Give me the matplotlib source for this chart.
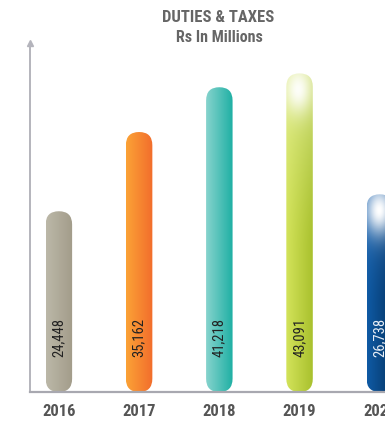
import numpy as np
import matplotlib
matplotlib.use("Agg")
import matplotlib.pyplot as plt
from matplotlib.patches import FancyBboxPatch
from matplotlib.colors import to_rgb
from matplotlib import font_manager

years = ["2016", "2017", "2018", "2019", "2020"]
values = [24448, 35162, 41218, 43091, 26738]
value_labels = ["24,448", "35,162", "41,218", "43,091", "26,738"]

# (left colour, right colour, top tint, glow strength, label colour)
styles = [
    ("#bcb8a8", "#a29c8a", None, 0.0, "#222222"),
    ("#fba236", "#f26d2c", None, 0.0, "#222222"),
    ("#86d3cd", "#1fb0a4", None, 0.0, "#222222"),
    ("#d3e35a", "#a9c12e", "#e6f0a8", 0.95, "#222222"),
    ("#0f5aa4", "#053566", "#3f7cc0", 1.0, "#e8eef6"),
]

installed = {f.name for f in font_manager.fontManager.ttflist}
cands = ["Liberation Sans Narrow", "DejaVu Sans Condensed", "Roboto Condensed",
         "Open Sans Condensed", "Noto Sans Condensed", "Arial Narrow"]
NARROW = [c for c in cands if c in installed] + ["DejaVu Sans"]
condensed = len(NARROW) > 1

W, H = 385, 421
fig = plt.figure(figsize=(W / 100, H / 100), dpi=100)
ax_left, ax_right = 30 / W, 1.0
ax_bottom, ax_top = (H - 392) / H, (H - 43) / H
ax = fig.add_axes([ax_left, ax_bottom, ax_right - ax_left, ax_top - ax_bottom])
ax.set_xlim(-0.36, 4.065)
ax.set_ylim(0, 47200)

x = np.arange(len(years))
bw = 0.33
bars = ax.bar(x, values, width=bw, alpha=0)

p0 = ax.transData.transform((0, 0))
p1 = ax.transData.transform((1, 1))
sx, sy = p1[0] - p0[0], p1[1] - p0[1]
aspect = sx / sy

for rect, st in zip(bars, styles):
    left_c, right_c, top_c, glow, _ = st
    x0, w = rect.get_x(), rect.get_width()
    h = rect.get_height()
    ny, nx = 300, 40
    u = np.linspace(0, 1, nx)[None, :, None]
    v = np.linspace(0, 1, ny)[:, None, None]
    lc = np.array(to_rgb(left_c))[None, None, :]
    rc = np.array(to_rgb(right_c))[None, None, :]
    img = lc * (1 - u) + rc * u
    img = np.broadcast_to(img, (ny, nx, 3)).copy()
    if top_c is not None:
        tc = np.array(to_rgb(top_c))[None, None, :]
        t = np.clip((v - 0.45) / 0.55, 0, 1) ** 1.5
        img = img * (1 - t * 0.7) + tc * (t * 0.7)
        hpx = h * sy
        yy = (1 - v[:, :, 0]) * hpx
        xx = (u[:, :, 0] - 0.45) * w * sx
        r2 = (xx / 14) ** 2 + ((yy - 16) / 24) ** 2
        g = glow * np.exp(-r2)
        img = img * (1 - g[:, :, None]) + 1.0 * g[:, :, None]
    img = np.clip(img, 0, 1)
    im = ax.imshow(img, extent=[x0, x0 + w, 0, h], origin="lower",
                   aspect="auto", interpolation="bilinear", zorder=2)
    clip = FancyBboxPatch((x0, 0), w, h,
                          boxstyle=f"round,pad=0,rounding_size={w / 2}",
                          mutation_aspect=aspect, transform=ax.transData,
                          facecolor="none", edgecolor="none")
    ax.add_patch(clip)
    im.set_clip_path(clip)

vfs = 10.5 if condensed else 9.5
for xi, lab, st in zip(x, value_labels, styles):
    ax.text(xi, 7400, lab, rotation=90, ha="center", va="center",
            fontsize=vfs, color=st[4], family=NARROW, zorder=3)

ax.set_xlim(-0.36, 4.065)
ax.set_ylim(0, 47200)

for s in ["top", "right"]:
    ax.spines[s].set_visible(False)
ax.spines["left"].set_color("#b4b4bc")
ax.spines["left"].set_linewidth(1.4)
ax.spines["bottom"].set_color("#a8a8b0")
ax.spines["bottom"].set_linewidth(1.6)
ax.plot([-0.36], [47200], marker="^", markersize=4, color="#b4b4bc",
        clip_on=False, zorder=5)

ax.set_yticks([])
ax.set_xticks(x, years)
ax.tick_params(axis="x", length=0, pad=8.5)
tfs = 12 if condensed else 10.5
for t in ax.get_xticklabels():
    t.set_family(NARROW)
    t.set_fontweight("bold")
    t.set_fontsize(tfs)
    t.set_color("#555555")

fig.text(218 / W, 1 - 17 / H, "DUTIES & TAXES", ha="center", va="center",
         fontsize=tfs, fontweight="bold", color="#666666", family=NARROW)
fig.text(219 / W, 1 - 37 / H, "Rs In Millions", ha="center", va="center",
         fontsize=tfs - 0.5, fontweight="bold", color="#666666", family=NARROW)

fig.savefig("out.png", dpi=100)
